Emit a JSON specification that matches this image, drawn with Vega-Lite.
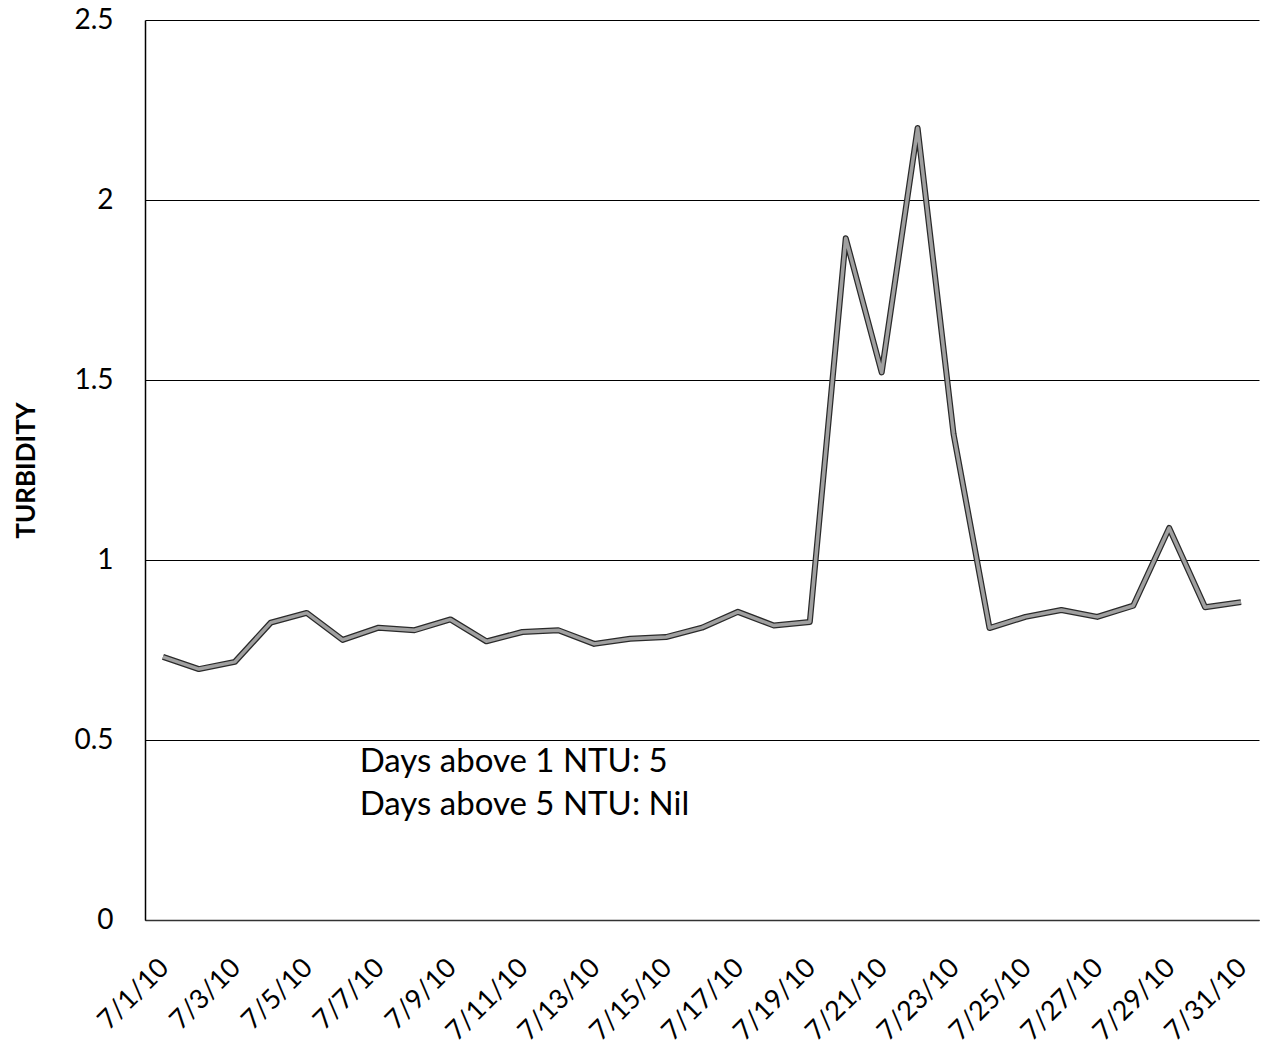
{
  "$schema": "https://vega.github.io/schema/vega-lite/v6.json",
  "autosize": "none",
  "width": 1114,
  "height": 900,
  "padding": {"left": 145, "top": 20, "right": 8, "bottom": 137},
  "background": "white",
  "config": {
    "view": {"stroke": null},
    "font": "Lato"
  },
  "datasets": {
    "turb": [
      {"date": "7/1/10", "ntu": 0.731},
      {"date": "7/2/10", "ntu": 0.697},
      {"date": "7/3/10", "ntu": 0.717},
      {"date": "7/4/10", "ntu": 0.826},
      {"date": "7/5/10", "ntu": 0.853},
      {"date": "7/6/10", "ntu": 0.778},
      {"date": "7/7/10", "ntu": 0.812},
      {"date": "7/8/10", "ntu": 0.805},
      {"date": "7/9/10", "ntu": 0.835},
      {"date": "7/10/10", "ntu": 0.774},
      {"date": "7/11/10", "ntu": 0.800},
      {"date": "7/12/10", "ntu": 0.805},
      {"date": "7/13/10", "ntu": 0.767},
      {"date": "7/14/10", "ntu": 0.781},
      {"date": "7/15/10", "ntu": 0.786},
      {"date": "7/16/10", "ntu": 0.812},
      {"date": "7/17/10", "ntu": 0.856},
      {"date": "7/18/10", "ntu": 0.818},
      {"date": "7/19/10", "ntu": 0.828},
      {"date": "7/20/10", "ntu": 1.894},
      {"date": "7/21/10", "ntu": 1.521},
      {"date": "7/22/10", "ntu": 2.2},
      {"date": "7/23/10", "ntu": 1.35},
      {"date": "7/24/10", "ntu": 0.811},
      {"date": "7/25/10", "ntu": 0.842},
      {"date": "7/26/10", "ntu": 0.861},
      {"date": "7/27/10", "ntu": 0.842},
      {"date": "7/28/10", "ntu": 0.873},
      {"date": "7/29/10", "ntu": 1.089},
      {"date": "7/30/10", "ntu": 0.869},
      {"date": "7/31/10", "ntu": 0.883}
    ],
    "notes": [
      {"date": "7/6/10", "ntu": 0.44, "label": "Days above 1 NTU: 5"},
      {"date": "7/6/10", "ntu": 0.32, "label": "Days above 5 NTU: Nil"}
    ]
  },
  "encoding": {
    "x": {
      "field": "date",
      "type": "ordinal",
      "sort": null,
      "scale": {"type": "point", "padding": 0.5},
      "axis": {
        "title": null,
        "labelAngle": -45,
        "labelAlign": "right",
        "labelBaseline": "top",
        "labelFontSize": 27,
        "labelColor": "black",
        "labelPadding": 34,
        "labelOffset": -8,
        "ticks": false,
        "grid": false,
        "domainColor": "#333",
        "domainWidth": 1.5,
        "labelOverlap": false,
        "labelExpr": "indexof(['7/1/10','7/3/10','7/5/10','7/7/10','7/9/10','7/11/10','7/13/10','7/15/10','7/17/10','7/19/10','7/21/10','7/23/10','7/25/10','7/27/10','7/29/10','7/31/10'], datum.value) >= 0 ? datum.value : ''"
      }
    },
    "y": {
      "field": "ntu",
      "type": "quantitative",
      "scale": {"domain": [0, 2.5], "nice": false},
      "axis": {
        "title": "TURBIDITY",
        "titleFontSize": 26,
        "titleFontWeight": "bold",
        "titleColor": "black",
        "titlePadding": 34,
        "values": [0, 0.5, 1, 1.5, 2, 2.5],
        "format": "~g",
        "labelFontSize": 28,
        "labelColor": "black",
        "labelPadding": 32,
        "ticks": false,
        "grid": true,
        "gridColor": "black",
        "gridWidth": 1,
        "domainColor": "black",
        "domainWidth": 1.5
      }
    }
  },
  "layer": [
    {
      "data": {"name": "turb"},
      "mark": {"type": "line", "color": "#2a2a2a", "strokeWidth": 6, "strokeJoin": "round"}
    },
    {
      "data": {"name": "turb"},
      "mark": {"type": "line", "color": "#a0a0a0", "strokeWidth": 3.5, "strokeJoin": "round"}
    },
    {
      "data": {"name": "notes"},
      "mark": {"type": "text", "align": "left", "baseline": "middle", "fontSize": 33, "color": "black", "dx": 17},
      "encoding": {"text": {"field": "label"}}
    }
  ]
}
